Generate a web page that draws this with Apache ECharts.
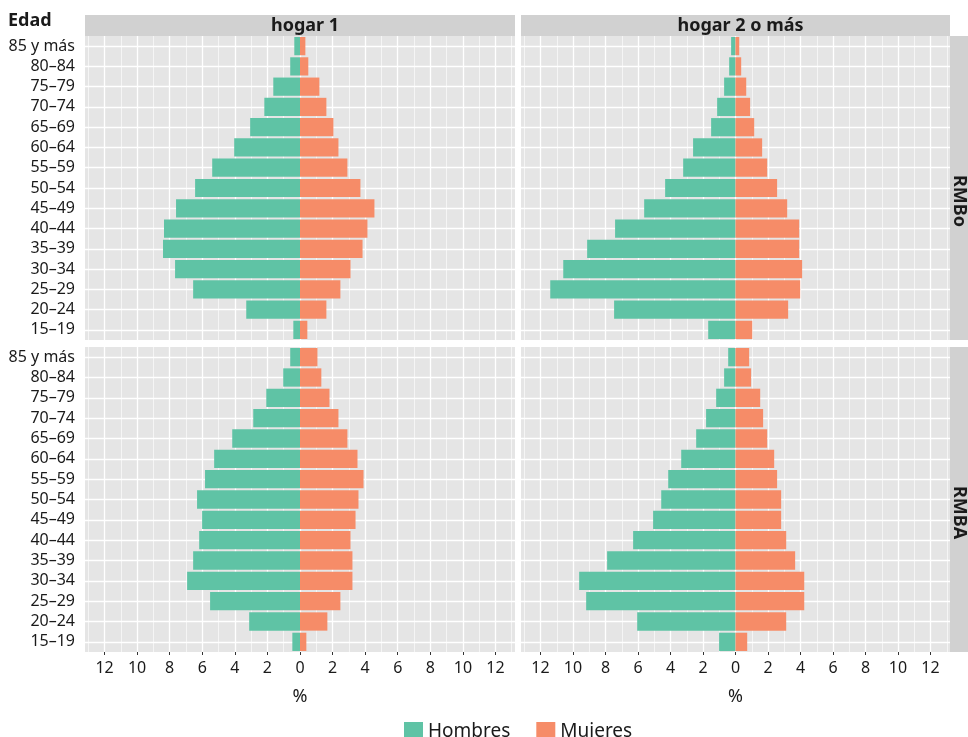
<!DOCTYPE html>
<html>
<head>
<meta charset="utf-8">
<script src="https://cdn.jsdelivr.net/npm/echarts@6/dist/echarts.min.js"></script>
<style>
  html, body { margin: 0; padding: 0; background: #fff; }
  #chart { width: 968px; height: 737px; }
</style>
</head>
<body>
<div id="chart"></div>
<script>
// age groups, bottom to top
const ages = ["15–19", "20–24", "25–29", "30–34", "35–39", "40–44", "45–49", "50–54", "55–59", "60–64", "65–69", "70–74", "75–79", "80–84", "85 y más"];
const hogares = ["hogar 1", "hogar 2 o más"];
const regiones = ["RMBo", "RMBA"];

// % values, same order as ages
const rmboH1Hombres = [0.41, 3.30, 6.56, 7.67, 8.41, 8.35, 7.61, 6.44, 5.39, 4.04, 3.06, 2.19, 1.64, 0.60, 0.35];
const rmboH1Mujeres = [0.45, 1.62, 2.48, 3.10, 3.84, 4.14, 4.57, 3.71, 2.91, 2.36, 2.05, 1.62, 1.19, 0.51, 0.33];
const rmboH2Hombres = [1.68, 7.47, 11.4, 10.6, 9.13, 7.41, 5.62, 4.33, 3.22, 2.61, 1.50, 1.13, 0.70, 0.39, 0.27];
const rmboH2Mujeres = [1.03, 3.24, 3.98, 4.10, 3.92, 3.92, 3.18, 2.56, 1.95, 1.64, 1.15, 0.90, 0.66, 0.35, 0.23];
const rmbaH1Hombres = [0.47, 3.12, 5.52, 6.93, 6.56, 6.19, 6.01, 6.32, 5.83, 5.27, 4.16, 2.87, 2.07, 1.03, 0.60];
const rmbaH1Mujeres = [0.39, 1.68, 2.48, 3.22, 3.22, 3.10, 3.41, 3.59, 3.90, 3.53, 2.91, 2.36, 1.81, 1.31, 1.07];
const rmbaH2Hombres = [1.01, 6.05, 9.19, 9.62, 7.90, 6.30, 5.07, 4.57, 4.14, 3.34, 2.42, 1.81, 1.19, 0.70, 0.45];
const rmbaH2Mujeres = [0.72, 3.12, 4.23, 4.23, 3.67, 3.12, 2.81, 2.81, 2.56, 2.38, 1.95, 1.70, 1.52, 0.96, 0.84];

const majorTicks = [-12, -10, -8, -6, -4, -2, 0, 2, 4, 6, 8, 10, 12];
const minorTicks = [-13, -11, -9, -7, -5, -3, -1, 1, 3, 5, 7, 9, 11, 13];
const xLimit = 13.2;

const panels = [
  { h: rmboH1Hombres, m: rmboH1Mujeres },
  { h: rmboH2Hombres, m: rmboH2Mujeres },
  { h: rmbaH1Hombres, m: rmbaH1Mujeres },
  { h: rmbaH2Hombres, m: rmbaH2Mujeres },
];

const colLeft = [85, 521];
const colWidth = [430, 429];
const rowTop = [36, 347];
const rowHeight = [304, 305];

const font = "Noto Sans";
const textColor = "#1a1a1a";

const chart = echarts.init(document.getElementById("chart"));

const grid = [];
const xAxis = [];
const yAxis = [];
const series = [];

panels.forEach((p, i) => {
  const row = Math.floor(i / 2);
  const col = i % 2;
  const isBottom = row === 1;
  const isLeft = col === 0;
  grid.push({
    left: colLeft[col], top: rowTop[row], width: colWidth[col], height: rowHeight[row],
    show: true, backgroundColor: "#e5e5e5", borderWidth: 0,
  });
  // main x axis (major grid, labels)
  xAxis.push({
    type: "value", gridIndex: i, min: -xLimit, max: xLimit,
    name: isBottom ? "%" : "", nameLocation: "middle", nameGap: 36,
    nameTextStyle: { fontFamily: font, fontSize: 18, color: textColor },
    axisLine: { show: false },
    axisTick: { show: isBottom, length: 3, customValues: majorTicks, lineStyle: { color: "#333" } },
    axisLabel: {
      show: isBottom, customValues: majorTicks, margin: 8,
      fontFamily: font, fontSize: 16, color: textColor,
      formatter: (v) => String(Math.abs(v)),
    },
    splitLine: { show: true, lineStyle: { color: "#ffffff", width: 1.3 } },
  });
  // minor x grid
  xAxis.push({
    type: "value", gridIndex: i, min: -xLimit, max: xLimit,
    axisLine: { show: false },
    axisTick: { show: false, customValues: minorTicks },
    axisLabel: { show: false, customValues: minorTicks },
    splitLine: { show: true, lineStyle: { color: "#ffffff", width: 0.6 } },
  });
  // category axis
  yAxis.push({
    type: "category", gridIndex: i, data: ages,
    axisLine: { show: false },
    axisTick: { show: isLeft, alignWithLabel: true, interval: 0, length: 4, lineStyle: { color: "#333" } },
    axisLabel: { show: isLeft, interval: 0, margin: 10, fontFamily: font, fontSize: 16, color: textColor },
    splitLine: { show: false },
  });
  // horizontal grid lines at category centres
  yAxis.push({
    type: "value", gridIndex: i, min: 0.5, max: ages.length + 0.5,
    axisLine: { show: false },
    axisTick: { show: false, customValues: ages.map((a, k) => k + 1) },
    axisLabel: { show: false, customValues: ages.map((a, k) => k + 1) },
    splitLine: { show: true, lineStyle: { color: "#ffffff", width: 1.3 } },
  });
  series.push({
    name: "Hombres", type: "bar", stack: "p" + i,
    xAxisIndex: i * 2, yAxisIndex: i * 2,
    barCategoryGap: "10%", itemStyle: { color: "#5fc3a5" },
    data: p.h.map((v) => -v), z: 3,
  });
  series.push({
    name: "Mujeres", type: "bar", stack: "p" + i,
    xAxisIndex: i * 2, yAxisIndex: i * 2,
    barCategoryGap: "10%", itemStyle: { color: "#f68c68" },
    data: p.m, z: 3,
  });
});

// facet strips
const graphic = [];
hogares.forEach((h, c) => {
  graphic.push({ type: "rect", shape: { x: colLeft[c], y: 15, width: colWidth[c], height: 21 }, style: { fill: "#d1d1d1" }, silent: true });
  graphic.push({
    type: "text", x: colLeft[c] + colWidth[c] / 2 + 5, y: 25.5,
    style: { text: h, fontFamily: font, fontSize: 18, fontWeight: "bold", fill: textColor, align: "center", verticalAlign: "middle" },
    silent: true,
  });
});
regiones.forEach((r, k) => {
  graphic.push({ type: "rect", shape: { x: 950, y: rowTop[k], width: 18, height: rowHeight[k] }, style: { fill: "#d1d1d1" }, silent: true });
  graphic.push({
    type: "text", x: 959, y: rowTop[k] + rowHeight[k] / 2 + 13, rotation: -Math.PI / 2,
    style: { text: r, fontFamily: font, fontSize: 18, fontWeight: "bold", fill: textColor, align: "center", verticalAlign: "middle" },
    silent: true,
  });
});
graphic.push({
  type: "text", x: 8, y: 21,
  style: { text: "Edad", fontFamily: font, fontSize: 18, fontWeight: "bold", fill: textColor, align: "left", verticalAlign: "middle" },
  silent: true,
});

chart.setOption({
  animation: false,
  backgroundColor: "#ffffff",
  grid, xAxis, yAxis, series, graphic,
  legend: {
    data: ["Hombres", "Mujeres"],
    left: 399, top: 717,
    icon: "rect", itemWidth: 19, itemHeight: 20, itemGap: 26,
    textStyle: { fontFamily: font, fontSize: 19, color: textColor, padding: [0, 0, 0, 0] },
  },
});
</script>
</body>
</html>
